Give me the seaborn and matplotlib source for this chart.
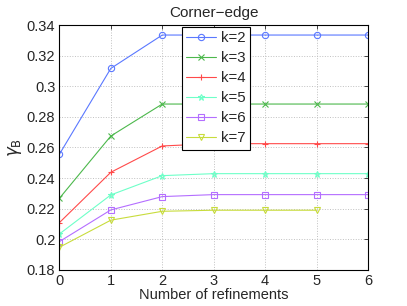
import matplotlib
matplotlib.use("Agg")
import matplotlib.pyplot as plt
import seaborn as sns
import pandas as pd

# refinement levels and gamma_B per k
refinements = [0, 1, 2, 3, 4, 5, 6]
k2 = [0.2556, 0.3117, 0.3335, 0.3335, 0.3335, 0.3335, 0.3335]
k3 = [0.2268, 0.2675, 0.2884, 0.2884, 0.2884, 0.2884, 0.2884]
k4 = [0.2109, 0.2438, 0.2610, 0.2625, 0.2625, 0.2625, 0.2625]
k5 = [0.2035, 0.2290, 0.2416, 0.2429, 0.2429, 0.2429, 0.2429]
k6 = [0.1985, 0.2192, 0.2279, 0.2292, 0.2292, 0.2292, 0.2292]
k7 = [0.1948, 0.2125, 0.2183, 0.2190, 0.2190, 0.2190]
labels = ["k=2", "k=3", "k=4", "k=5", "k=6", "k=7"]
yticks = [0.18, 0.2, 0.22, 0.24, 0.26, 0.28, 0.3, 0.32, 0.34]
ytick_labels = ["0.18", "0.2", "0.22", "0.24", "0.26", "0.28", "0.3", "0.32", "0.34"]

series = [k2, k3, k4, k5, k6, k7]
colors = ["#5a78ff", "#4cb84c", "#ff4a4a", "#6effc8", "#b46eff", "#c8dc3c"]
markers = ["o", "x", "+", "*", "s", "v"]

sns.set_style("white")
plt.rcParams['font.family'] = ['Liberation Sans', 'DejaVu Sans']
plt.rcParams['font.size'] = 10.5

fig = plt.figure(figsize=(4.07, 3.06), dpi=100)
ax = fig.add_axes([0.146, 0.118, 0.758, 0.8])

for vals, lab, c, m in zip(series, labels, colors, markers):
    df = pd.DataFrame({"x": refinements[:len(vals)], "y": vals})
    sns.lineplot(data=df, x="x", y="y", ax=ax, color=c, marker=m,
                 markersize=4.5, markerfacecolor="none", markeredgecolor=c,
                 markeredgewidth=0.8, linewidth=0.8, label=lab)

ax.set_xlim(0, 6)
ax.set_ylim(0.18, 0.34)
ax.set_xticks(refinements)
ax.set_yticks(yticks)
ax.set_yticklabels(ytick_labels)
ax.grid(True, linestyle=":", color="#c0c0c0", linewidth=0.7)
ax.tick_params(direction="in", length=3, top=True, right=True, width=0.6, pad=3)
for sp in ax.spines.values():
    sp.set_color("black")
    sp.set_linewidth(0.8)

ax.set_title("Corner\u2212edge", fontsize=11, pad=6)
ax.set_xlabel("Number of refinements", labelpad=0)
ax.set_ylabel(r"$\gamma_\mathrm{B}$", fontsize=12, labelpad=2)

leg = ax.legend(loc="upper left", bbox_to_anchor=(0.397, 0.993), frameon=True,
                fancybox=False, edgecolor="black", framealpha=1,
                handlelength=2.0, borderpad=0.3, labelspacing=0.4,
                handletextpad=0.3, borderaxespad=0, fontsize=10.8)
leg.get_frame().set_linewidth(0.8)

fig.savefig("out.png", dpi=100)
